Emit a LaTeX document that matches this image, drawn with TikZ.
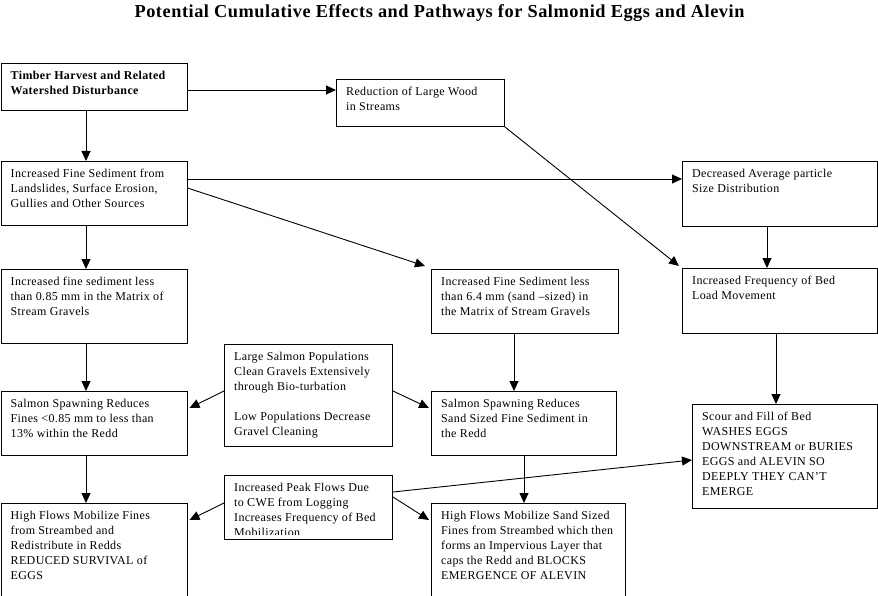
\documentclass[tikz,border=0pt]{standalone}
\usepackage{fontspec}
\setmainfont{Liberation Serif}[LetterSpace=3]
\usetikzlibrary{arrows.meta}
\tikzset{
  bx/.style={draw=black, line width=1pt, anchor=north west, inner sep=0pt, fill=white},
  tx/.style={anchor=north west, inner sep=0pt, align=left, font=\fontsize{12}{15}\selectfont},
  ln/.style={draw=black, line width=0.9pt},
  arr/.style={ln, -{Triangle[length=10pt,width=9pt]}},
  ttl/.style={font=\fontsize{18.3}{20}\selectfont\bfseries, inner sep=0pt}
}
\begin{document}
\begin{tikzpicture}[x=1pt,y=-1pt]
\clip (0,0) rectangle (878,596);
\fill[white] (0,0) rectangle (878,596);
\node[ttl] (title) at (439.5,13) {Potential Cumulative Effects and Pathways for Salmonid Eggs and Alevin};
% boxes
\node[bx, minimum width=186, minimum height=47] (A) at (0.5,63) {};
\node[bx, minimum width=168, minimum height=47] (B) at (336,79) {};
\node[bx, minimum width=186, minimum height=64] (C) at (0.5,161) {};
\node[bx, minimum width=195, minimum height=65] (D) at (682,161) {};
\node[bx, minimum width=195, minimum height=65] (E) at (682,268) {};
\node[bx, minimum width=187, minimum height=64] (F) at (431,269) {};
\node[bx, minimum width=186, minimum height=74] (G) at (0.5,269) {};
\node[bx, minimum width=168, minimum height=102] (H) at (224,344) {};
\node[bx, minimum width=186, minimum height=64] (I) at (0.5,391) {};
\node[bx, minimum width=185, minimum height=64] (J) at (431,391) {};
\node[bx, minimum width=185, minimum height=104] (K) at (692,404) {};
\node[bx, minimum width=194, minimum height=120] (L) at (431,503) {};
\node[bx, minimum width=168, minimum height=64] (M) at (224,475) {};
\node[bx, minimum width=186, minimum height=120] (N) at (0.5,503) {};
% texts
\node[tx, font=\fontsize{12}{15}\selectfont\bfseries] (tA) at ([shift={(10,8)}]A.north west) {Timber Harvest and Related\\Watershed Disturbance};
\node[tx] (tB) at ([shift={(10,8)}]B.north west) {Reduction of Large Wood\\in Streams};
\node[tx] (tC) at ([shift={(10,8)}]C.north west) {Increased Fine Sediment from\\Landslides, Surface Erosion,\\Gullies and Other Sources};
\node[tx] (tD) at ([shift={(10,8)}]D.north west) {Decreased Average particle\\Size Distribution};
\node[tx] (tE) at ([shift={(10,8)}]E.north west) {Increased Frequency of Bed\\Load Movement};
\node[tx] (tF) at ([shift={(10,8)}]F.north west) {Increased Fine Sediment less\\than 6.4 mm (sand –sized) in\\the Matrix of Stream Gravels};
\node[tx] (tG) at ([shift={(10,8)}]G.north west) {Increased fine sediment less\\than 0.85 mm in the Matrix of\\Stream Gravels};
\node[tx] (tH) at ([shift={(10,8)}]H.north west) {Large Salmon Populations\\Clean Gravels Extensively\\through Bio-turbation\\[15pt]Low Populations Decrease\\Gravel Cleaning};
\node[tx] (tI) at ([shift={(10,8)}]I.north west) {Salmon Spawning Reduces\\Fines <0.85 mm to less than\\13\% within the Redd};
\node[tx] (tJ) at ([shift={(10,8)}]J.north west) {Salmon Spawning Reduces\\Sand Sized Fine Sediment in\\the Redd};
\node[tx] (tK) at ([shift={(10,8)}]K.north west) {Scour and Fill of Bed\\WASHES EGGS\\DOWNSTREAM or BURIES\\EGGS and ALEVIN SO\\DEEPLY THEY CAN’T\\EMERGE};
\node[tx] (tL) at ([shift={(10,8)}]L.north west) {High Flows Mobilize Sand Sized\\Fines from Streambed which then\\forms an Impervious Layer that\\caps the Redd and BLOCKS\\EMERGENCE OF ALEVIN};
\node[tx] (tN) at ([shift={(10,8)}]N.north west) {High Flows Mobilize Fines\\from Streambed and\\Redistribute in Redds\\REDUCED SURVIVAL of\\EGGS};
\begin{scope}
\clip (M.north west) rectangle ([yshift=6]M.south east);
\node[tx] (tM) at ([shift={(10,8)}]M.north west) {Increased Peak Flows Due\\to CWE from Logging\\Increases Frequency of Bed\\Mobilization};
\end{scope}
% connectors
\draw[arr] (A.east |- 0,90) -- (B.west |- 0,90);
\draw[arr] (86,0 |- A.south) -- (86,0 |- C.north);
\draw[arr] (C.east |- 0,179) -- (D.west |- 0,179);
\draw[arr] (C.east |- 0,188) -- ([shift={(-6,-3)}]F.north west);
\draw[arr] (B.south east) -- ([shift={(-3,-2)}]E.north west);
\draw[arr] (767,0 |- D.south) -- (767,0 |- E.north);
\draw[arr] (86,0 |- C.south) -- (86,0 |- G.north);
\draw[arr] (514,0 |- F.south) -- (514,0 |- J.north);
\draw[arr] (776,0 |- E.south) -- (776,0 |- K.north);
\draw[arr] (86,0 |- G.south) -- (86,0 |- I.north);
\draw[arr] (H.west |- 0,391) -- ([xshift=2]I.east |- 0,408);
\draw[arr] (H.east |- 0,391) -- ([xshift=-2]J.west |- 0,408);
\draw[arr] (86,0 |- I.south) -- (86,0 |- N.north);
\draw[arr] (524,0 |- J.south) -- (524,0 |- L.north);
\draw[arr] (M.west |- 0,503) -- ([xshift=2]N.east |- 0,520);
\draw[arr] (M.east |- 0,497) -- ([xshift=-2]L.west |- 0,520);
\draw[arr] (M.east |- 0,492) -- (K.west |- 0,460);
\end{tikzpicture}
\end{document}
